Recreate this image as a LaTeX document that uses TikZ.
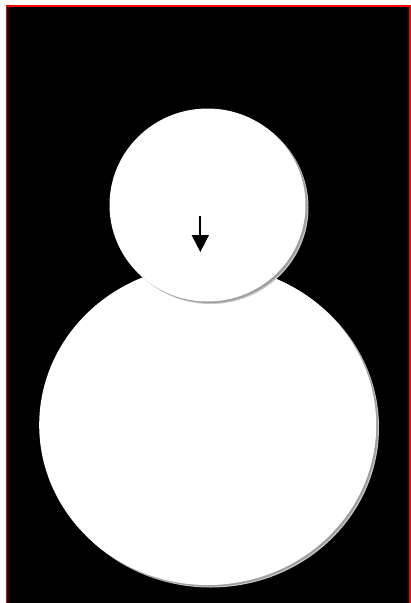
\documentclass[tikz,border=0pt]{standalone}
\usetikzlibrary{arrows.meta,shapes.geometric}
\begin{document}
\begin{tikzpicture}[x=1pt,y=-1pt,
  ball/.style={ellipse,fill=white,inner sep=0pt,draw=none},
  shade1/.style={ellipse,fill=gray!45,inner sep=0pt,draw=none},
  shade2/.style={ellipse,fill=gray!75,inner sep=0pt,draw=none}]
\useasboundingbox (0,0) rectangle (411,603);
\clip (0,0) rectangle (411,603);
\draw[red,line width=1.7pt,fill=black] (6.5,6) rectangle (410,620);
% bottom ball
\node[shade1,minimum width=337pt,minimum height=320pt] at (210.5,427.5) {};
\node[shade2,minimum width=337pt,minimum height=320pt] at (209.5,426.5) {};
\node[ball,minimum width=337pt,minimum height=320pt] (body) at (207.7,425) {};
% head
\node[shade1,minimum width=196pt,minimum height=193pt] at (210.5,207.5) {};
\node[shade2,minimum width=196pt,minimum height=193pt] at (209.5,206.5) {};
\node[ball,minimum width=196pt,minimum height=193pt] (head) at (207.5,205) {};
\coordinate (a1) at (200.3,216);
\coordinate (a2) at (200.3,252);
\draw[line width=1.8pt,-{Triangle[length=17pt,width=17pt]}] (a1) -- (a2);
\end{tikzpicture}
\end{document}
